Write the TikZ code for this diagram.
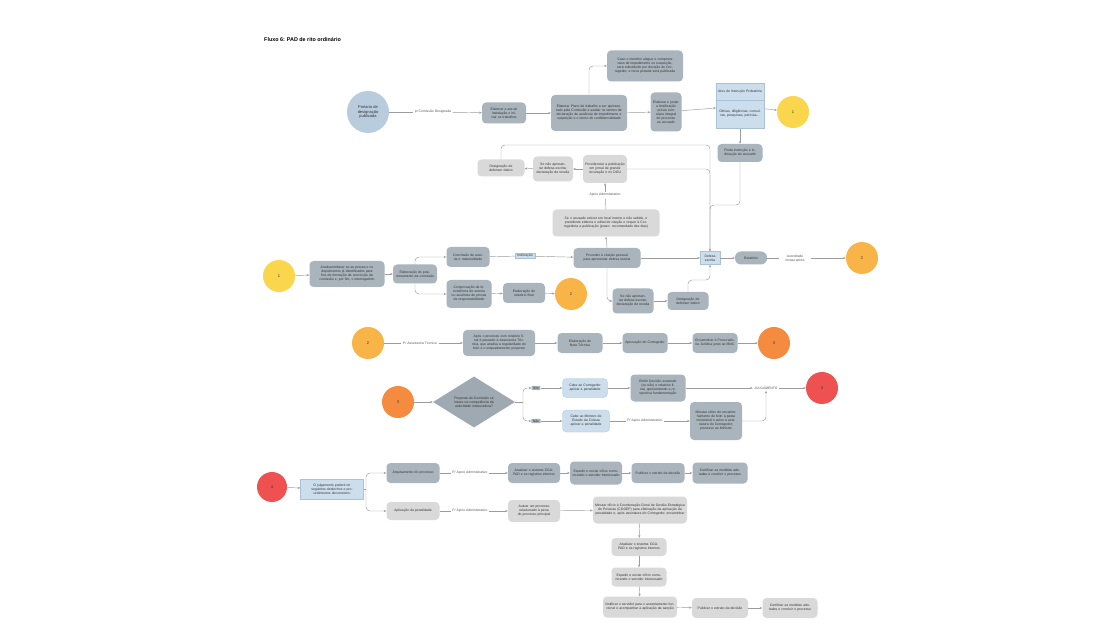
\documentclass[tikz,border=0pt]{standalone}
\usepackage{fontspec}
\setmainfont{Liberation Sans}
\usetikzlibrary{arrows.meta,shapes.geometric,calc}

\definecolor{dkbox}{HTML}{A9B4BC}
\definecolor{lgbox}{HTML}{D9D9D9}
\definecolor{lbbox}{HTML}{CCDEEC}
\definecolor{lbedge}{HTML}{A9C2D8}
\definecolor{cblue}{HTML}{B8CCDE}
\definecolor{cyellow}{HTML}{F9D64C}
\definecolor{corange}{HTML}{F8B447}
\definecolor{cdeep}{HTML}{F58B3F}
\definecolor{cred}{HTML}{EF5151}
\definecolor{dmd}{HTML}{9FA9B1}
\definecolor{lncol}{HTML}{9C9C9C}
\definecolor{txtc}{HTML}{333333}

\tikzset{
  base/.style={align=center, text=txtc, inner xsep=2pt, inner ysep=1.5pt,
    font=\fontsize{3.4}{4}\selectfont},
  sz/.style 2 args={text width=#1, minimum height=#2},
  dk/.style={base, fill=dkbox, rounded corners=4pt},
  lg/.style={base, fill=lgbox, rounded corners=4pt},
  lb/.style={base, fill=lbbox, draw=lbedge, line width=0.3pt},
  pill/.style={rounded corners=6pt},
  circ/.style={circle, base, inner sep=0pt, font=\fontsize{4}{4.6}\selectfont},
  lbl/.style={base, text=black!65, inner xsep=1.5pt},
  ln/.style={draw=lncol, line width=0.45pt, rounded corners=4pt},
  arr/.style={ln, -{Stealth[length=2.6pt,width=2.2pt]}},
}

\begin{document}
\begin{tikzpicture}[x=1pt, y=-1pt]
\useasboundingbox (0,0) rectangle (1120,639);
\fill[white] (0,0) rectangle (1120,639);

% title
\node[anchor=west, inner sep=0pt, font=\bfseries\fontsize{5.4}{6}\selectfont] (title) at (264,40) {Fluxo 6: PAD de rito ordinário};

% ---------- opening of the proceedings ----------
\node[circ, fill=cblue, minimum size=42pt, text width=28pt] (portaria) at (368,112) {Portaria de designação publicada};
\node[lbl] (l1) at (433,112) {p/ Comissão Designada};
\node[dk, sz={40pt}{21pt}] (ata) at (504,113) {Elaborar a ata de instalação e iniciar os trabalhos};
\node[dk, sz={72pt}{36pt}] (plano) at (589,113) {Elaborar Plano de trabalho a ser apresentado pela Comissão e avaliar os termos de declaração de ausência de impedimento e suspeição e o termo de confidencialidade};
\node[dk, sz={72pt}{31pt}] (imped) at (645,66) {Caso o membro alegue e comprove caso de impedimento ou suspeição, será substituído por decisão do Corregedor, e nova portaria será publicada};
\node[dk, sz={27pt}{39pt}] (notif) at (666,112) {Elaborar e juntar a Notificação prévia com cópia integral do processo ao acusado};
\node[lb, minimum width=48pt, minimum height=45pt, inner sep=0pt] (fase) at (740,106) {};
\node[base, text width=44pt] (faseT) at (740,92) {Atos de Instrução Probatória};
\node[base, text width=44pt] (faseB) at (740,114) {Oitivas, diligências, consultas, pesquisas, perícias...};
\draw[draw=lbedge, line width=0.3pt] ([yshift=6pt]fase.west) -- ([yshift=6pt]fase.east);
\node[circ, fill=cyellow, minimum size=32pt] (c1a) at (793,112) {1};
\node[dk, sz={41pt}{18pt}] (finda) at (740,153) {Finda instrução e indiciação do acusado};

\draw[ln] (portaria) -- (l1);
\draw[arr] (l1) -- (ata);
\draw[arr] (ata) -- (plano);
\draw[arr] (plano.north) |- (imped.west);
\draw[arr] (plano) -- (notif);
\draw[arr] (notif) -- (fase);
\draw[arr] (fase) -- (c1a);
\draw[arr] (fase) -- (finda);

% ---------- citation by public notice ----------
\node[lg, sz={43pt}{17pt}] (dativo1) at (501,168) {Designação de defensor dativo};
\node[lg, sz={36pt}{25pt}] (revelia1) at (553,169) {Se não apresentar defesa escrita: declaração de revelia};
\node[lg, sz={40pt}{28pt}] (provid) at (605,169) {Providenciar a publicação em jornal de grande circulação e no DOU};
\node[lbl] (apoio1) at (605,195) {Apoio Administrativo};
\node[lg, sz={103pt}{27pt}] (edital) at (606,223) {Se o acusado estiver em local incerto e não sabido, o presidente elabora o edital de citação e requer à Corregedoria a publicação (prazo: recomendado dez dias)};

% ---------- indictment and defence ----------
\node[circ, fill=cyellow, minimum size=32pt] (c1b) at (279,276) {1};
\node[dk, sz={71pt}{26pt}] (analisar) at (347,274) {Analisar/reiterar se as provas e os depoimentos já identificados para fins de formação da convicção da comissão e, por fim, o interrogatório};
\node[dk, sz={40pt}{19pt}] (posic) at (415,274) {Elaboração do posicionamento da comissão};
\node[dk, sz={39pt}{20pt}] (autoria) at (468,257) {Conclusão de autoria e materialidade};
\node[lb, inner ysep=1pt] (indic) at (525,256) {Indiciação};
\node[dk, sz={63pt}{20pt}] (citacao) at (607,258) {Proceder à citação pessoal para apresentar defesa escrita};
\node[dk, sz={41pt}{28pt}] (inexist) at (469,294) {Comprovação de inexistência de autoria ou ausência de provas de responsabilidade};
\node[dk, sz={38pt}{20pt}] (relfinal) at (524,293) {Elaboração do relatório final};
\node[circ, fill=corange, minimum size=32pt] (c2a) at (571,294) {2};
\node[dk, sz={37pt}{25pt}] (revelia2) at (633,301) {Se não apresentar defesa escrita: declaração de revelia};
\node[dk, sz={37pt}{18pt}] (dativo2) at (688,301) {Designação de defensor dativo};
\node[lb, sz={16pt}{13pt}] (defesa) at (710,258) {Defesa escrita};
\node[dk, pill, sz={28pt}{13pt}] (relat) at (751,258) {Relatório};
\node[lbl, text width=28pt] (autinst) at (795,258) {Autoridade instauradora};
\node[circ, fill=corange, minimum size=32pt] (c2b) at (862,258) {2};

\coordinate (jtop) at (710,145);
\coordinate (jmid) at (725,205);
\coordinate (jlow) at (699,280);

\draw[ln] (edital.north) -- (apoio1);
\draw[arr] (apoio1) -- (provid);
\draw[arr] (provid) -- (revelia1);
\draw[arr] (revelia1) -- (dativo1);
\draw[arr] (dativo1.north) |- (jtop) -- (defesa.north);
\draw[ln] (provid.east) -| (defesa.north);
\draw[ln] (finda.south) |- (jmid) -| (defesa.north);

\draw[arr] (c1b) -- (analisar);
\draw[arr] (analisar) -- (posic);
\draw[arr] (posic.north) |- (autoria.west);
\draw[arr] (posic.south) |- (inexist.west);
\draw[ln] (autoria) -- (indic);
\draw[arr] (indic) -- (citacao);
\draw[arr] (citacao.north) -- (edital.south);
\draw[arr] (inexist) -- (relfinal);
\draw[arr] (relfinal) -- (c2a);
\draw[arr] (citacao) -- (defesa);
\draw[arr] (citacao.south) |- (revelia2.west);
\draw[arr] (revelia2) -- (dativo2);
\draw[arr] (dativo2.north) |- (jlow) -| (defesa.south);
\draw[arr] (defesa) -- (relat);
\draw[ln] (relat) -- (autinst);
\draw[arr] (autinst) -- (c2b);

% ---------- technical opinion ----------
\node[circ, fill=corange, minimum size=32pt] (c2c) at (368,343) {2};
\node[lbl] (assess) at (420,343) {P/ Assessoria Técnica};
\node[dk, sz={68pt}{26pt}] (aposproc) at (499,343) {Após o processo com relatório final é passado à Assessoria Técnica, que analisa a regularidade do feito e o enquadramento proposto};
\node[dk, sz={41pt}{20pt}] (nota) at (580,343) {Elaboração de Nota Técnica};
\node[dk, sz={41pt}{20pt}] (aprov) at (645,343) {Aprovação do Corregedor};
\node[dk, sz={41pt}{20pt}] (encam) at (715,343) {Encaminhar à Procuradoria Jurídica junto ao MinC};
\node[circ, fill=cdeep, minimum size=32pt] (c3a) at (774,343) {3};

\draw[ln] (c2c) -- (assess);
\draw[arr] (assess) -- (aposproc);
\draw[arr] (aposproc) -- (nota);
\draw[arr] (nota) -- (aprov);
\draw[arr] (aprov) -- (encam);
\draw[arr] (encam) -- (c3a);

% ---------- competence for the penalty ----------
\node[circ, fill=cdeep, minimum size=32pt] (c3b) at (398,402) {3};
\node[diamond, base, fill=dmd, aspect=1.6, inner sep=0pt, text width=44pt, minimum width=82pt, minimum height=51pt] (prop) at (474,402) {Proposta da Comissão se insere na competência da autoridade instauradora?};
\node[dk, rounded corners=0.8pt, inner xsep=1.5pt, inner ysep=1pt] (sim) at (536,388) {Sim};
\node[dk, rounded corners=0.8pt, inner xsep=1.5pt, inner ysep=1pt] (nao) at (536,421) {Não};
\node[lb, rounded corners=4pt, sz={41pt}{19pt}] (cabecor) at (585,388) {Cabe ao Corregedor aplicar a penalidade};
\node[dk, sz={51pt}{27pt}] (emitir) at (658,388) {Emitir Decisão acatando (ou não) o relatório final, apresentando a respectiva fundamentação};
\node[lbl] (julg) at (766,388) {JULGAMENTO};
\node[circ, fill=cred, minimum size=32pt] (c4a) at (822,388) {4};
\node[lb, rounded corners=4pt, sz={43pt}{22pt}] (cabemin) at (586,421) {Cabe ao Ministro de Estado da Cultura aplicar a penalidade};
\node[lbl] (apoio2) at (645,421) {P/ Apoio Administrativo};
\node[dk, sz={48pt}{38pt}] (minutar) at (716,421) {Minutar ofício de encaminhamento do feito à pasta ministerial e aviso à assinatura do Corregedor; processo ao Ministro};

\coordinate (jd) at (523,402);
\draw[arr] (c3b) -- (prop);
\draw[ln] (prop.east) -- (jd);
\draw[arr] (jd) |- (sim.west);
\draw[arr] (jd) |- (nao.west);
\draw[arr] (sim) -- (cabecor);
\draw[arr] (nao) -- (cabemin);
\draw[arr] (cabecor) -- (emitir);
\draw[arr] (emitir) -- (julg);
\draw[arr] (julg) -- (c4a);
\draw[ln] (cabemin) -- (apoio2);
\draw[arr] (apoio2) -- (minutar);
\draw[arr] (minutar.east) -| (julg.south);

% ---------- outcomes of the judgement ----------
\node[circ, fill=cred, minimum size=30pt] (c4b) at (272,487) {4};
\node[lb, sz={59pt}{20pt}] (desf) at (332,489) {O julgamento poderá ter seguintes desfechos e procedimentos decorrentes:};
\node[dk, sz={49pt}{20pt}] (arquiv) at (413,473) {Arquivamento do processo};
\node[lbl] (apoio3) at (470,473) {P/ Apoio Administrativo};
\node[dk, sz={48pt}{20pt}] (atual1) at (534,473) {Atualizar o sistema CGU-PAD e os registros internos};
\node[dk, sz={48pt}{23pt}] (exped1) at (596,473) {Expedir e enviar ofício comunicando o servidor interessado};
\node[dk, sz={49pt}{20pt}] (publ1) at (658,473) {Publicar o extrato da decisão};
\node[dk, sz={51pt}{21pt}] (cert1) at (720,473) {Certificar as medidas adotadas e concluir o processo};

\node[lg, sz={49pt}{18pt}] (aplic) at (413,511) {Aplicação da penalidade};
\node[lbl] (apoio4) at (470,511) {P/ Apoio Administrativo};
\node[lg, sz={48pt}{22pt}] (autuar) at (534,511) {Autuar um processo relacionado à pena do processo principal};
\node[lg, sz={90pt}{27pt}] (oficio) at (640,510) {Minutar ofício à Coordenação-Geral de Gestão Estratégica de Pessoas (CGGEP) para efetivação da aplicação da penalidade e, após assinatura do Corregedor, encaminhar};
\node[lg, sz={51pt}{18pt}] (atual2) at (639,547) {Atualizar o sistema CGU-PAD e os registros internos};
\node[lg, sz={51pt}{19pt}] (exped2) at (639,577) {Expedir e enviar ofício comunicando o servidor interessado};
\node[lg, sz={70pt}{21pt}] (notif2) at (640,607) {Notificar o servidor para o assentamento funcional e acompanhar a aplicação da sanção};
\node[lg, sz={52pt}{20pt}] (publ2) at (720,608) {Publicar o extrato da decisão};
\node[lg, sz={51pt}{20pt}] (cert2) at (790,608) {Certificar as medidas adotadas e concluir o processo};

\coordinate (jr) at (366,489);
\draw[arr] (c4b) -- (desf);
\draw[ln] (desf.east) -- (jr);
\draw[arr] (jr) |- (arquiv.west);
\draw[arr] (jr) |- (aplic.west);
\draw[ln] (arquiv) -- (apoio3);
\draw[arr] (apoio3) -- (atual1);
\draw[arr] (atual1) -- (exped1);
\draw[arr] (exped1) -- (publ1);
\draw[arr] (publ1) -- (cert1);
\draw[ln] (aplic) -- (apoio4);
\draw[arr] (apoio4) -- (autuar);
\draw[arr] (autuar) -- (oficio);
\draw[arr] (oficio) -- (atual2);
\draw[arr] (atual2) -- (exped2);
\draw[arr] (exped2) -- (notif2);
\draw[arr] (notif2) -- (publ2);
\draw[arr] (publ2) -- (cert2);
\end{tikzpicture}
\end{document}
